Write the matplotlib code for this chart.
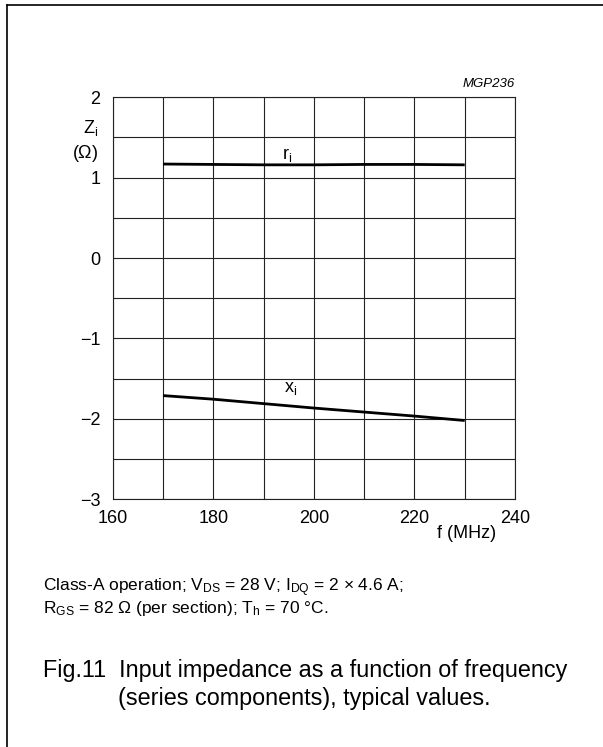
import matplotlib
matplotlib.use("Agg")
import matplotlib.pyplot as plt
from matplotlib.lines import Line2D
from matplotlib.ticker import MultipleLocator

plt.rcParams['font.family'] = ['Liberation Sans', 'DejaVu Sans']
plt.rcParams['mathtext.fontset'] = 'custom'
plt.rcParams['mathtext.rm'] = 'Liberation Sans'
plt.rcParams['mathtext.it'] = 'Liberation Sans:italic'
plt.rcParams['mathtext.default'] = 'regular'

freq = [170, 180, 190, 200, 210, 220, 230]
r_i = [1.17, 1.165, 1.16, 1.16, 1.165, 1.165, 1.16]
x_i = [-1.71, -1.755, -1.81, -1.865, -1.915, -1.965, -2.02]
x_ticks = [160, 180, 200, 220, 240]
y_ticks = [-3, -2, -1, 0, 1, 2]

W, H = 603, 747
fig = plt.figure(figsize=(W / 100, H / 100), dpi=100)

def fx(px):
    return px / W

def fy(py):
    return 1 - py / H

left, right, top, bottom = 112.7, 515, 97.3, 499.3
ax = fig.add_axes([fx(left), fy(bottom), fx(right - left), (bottom - top) / H])

ax.plot(freq, r_i, color='black', lw=2.0, solid_capstyle='butt')
ax.plot(freq, x_i, color='black', lw=2.0, solid_capstyle='butt')

ax.set_xlim(160, 240)
ax.set_ylim(-3, 2)
ax.set_xticks(x_ticks)
ax.set_yticks(y_ticks)
ax.xaxis.set_minor_locator(MultipleLocator(10))
ax.yaxis.set_minor_locator(MultipleLocator(0.5))
ax.grid(True, which='both', color='#222222', lw=0.8)
ax.set_axisbelow(True)
ax.tick_params(which='both', length=0)
ax.tick_params(axis='x', labelsize=13, pad=8)
ax.tick_params(axis='y', labelsize=13, pad=9)
for s in ax.spines.values():
    s.set_color('#222222')
    s.set_linewidth(0.8)

ax.text(194.7, 1.28, r'$r_i$', fontsize=13, ha='center', va='center')
ax.text(195.3, -1.62, r'$x_i$', fontsize=13, ha='center', va='center')

fig.text(fx(98), fy(128), r'$Z_i$', fontsize=13, ha='right', va='center')
fig.text(fx(98), fy(153), r'($\Omega$)', fontsize=13, ha='right', va='center')
fig.text(fx(437), fy(533), 'f (MHz)', fontsize=13, ha='left', va='center')
fig.text(fx(515), fy(87), 'MGP236', fontsize=9.5, ha='right', va='baseline', style='italic')

fig.text(fx(43), fy(588), r'Class-A operation; $V_{DS}$ = 28 V; $I_{DQ}$ = 2 $\times$ 4.6 A;',
         fontsize=12.5, ha='left', va='center')
fig.text(fx(43), fy(608), r'$R_{GS}$ = 82 $\Omega$ (per section); $T_h$ = 70 °C.',
         fontsize=12.5, ha='left', va='center')

fig.text(fx(43), fy(670), 'Fig.11  Input impedance as a function of frequency',
         fontsize=16.8, ha='left', va='center')
fig.text(fx(118), fy(698), '(series components), typical values.',
         fontsize=16.8, ha='left', va='center')

fig.add_artist(Line2D([fx(7), fx(603)], [fy(5), fy(5)], color='black', lw=1.2))
fig.add_artist(Line2D([fx(7), fx(7)], [fy(5), fy(747)], color='black', lw=1.2))

fig.savefig('out.png', dpi=100)
